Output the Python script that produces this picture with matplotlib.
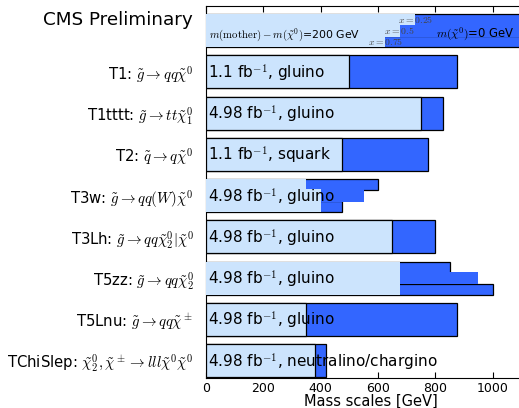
import matplotlib
matplotlib.use("Agg")
import matplotlib.pyplot as plt

plt.rcParams["mathtext.fontset"] = "cm"
plt.rcParams["font.family"] = "DejaVu Sans"

# Simplified models, top to bottom
models = ["T1", "T1tttt", "T2", "T3w", "T3Lh", "T5zz", "T5Lnu", "TChiSlep"]
decays = [
    r"$\tilde{g}\rightarrow qq\tilde{\chi}^0$",
    r"$\tilde{g}\rightarrow tt\tilde{\chi}^0_1$",
    r"$\tilde{q}\rightarrow q\tilde{\chi}^0$",
    r"$\tilde{g}\rightarrow qq(W)\tilde{\chi}^0$",
    r"$\tilde{g}\rightarrow qq\tilde{\chi}^0_2|\tilde{\chi}^0$",
    r"$\tilde{g}\rightarrow qq\tilde{\chi}^0_2$",
    r"$\tilde{g}\rightarrow qq\tilde{\chi}^\pm$",
    r"$\tilde{\chi}^0_2,\tilde{\chi}^\pm\rightarrow lll\tilde{\chi}^0\tilde{\chi}^0$",
]
lumi = ["1.1", "4.98", "1.1", "4.98", "4.98", "4.98", "4.98", "4.98"]
particle = ["gluino", "gluino", "squark", "gluino", "gluino", "gluino",
            "gluino", "neutralino/chargino"]

# Mass reach [GeV]: m(mother) - m(LSP) = 200 GeV (light) and m(LSP) = 0 (dark)
reach_dm200 = [500, 750, 475, None, 650, None, 350, 380]
reach_lsp0 = [875, 825, 775, None, 800, None, 875, 420]

# Models with an intermediate particle: values for x = 0.25, 0.5, 0.75
x_values = ["0.25", "0.5", "0.75"]
t3w_dm200 = [350, 400, 400]
t3w_lsp0 = [600, 550, 475]
t5zz_dm200 = [675, 675, 675]
t5zz_lsp0 = [850, 950, 1000]

# Key row: light part ends at the step, dark part fills the rest
key_dm200 = [730, 675, 625]
key_lsp0 = [1150, 1150, 1150]

light = "#cce4fd"
dark = "#3366ff"

fig = plt.figure(figsize=(5.19, 4.08), dpi=100)
ax = fig.add_axes([206 / 519, 1 - 378 / 408, 329.7 / 519, 372 / 408])

nrows = len(models) + 1
ypos = [nrows - 1 - i for i in range(nrows)]
h = 0.8
sub = h / 3
pad = 0.04  # middle strip overlaps its neighbours to hide inner outlines


def stepped(yc, dm200, lsp0):
    top = yc + h / 2
    ys = [top - sub * (k + 0.5) for k in range(3)]
    # outer strips carry the outline, middle strip drawn plain on top
    for k in (0, 2):
        ax.barh(ys[k], lsp0[k], height=sub, color=dark, edgecolor="black",
                linewidth=0.9, zorder=2)
    ax.barh(ys[1], lsp0[1], height=sub + pad, color=dark, edgecolor="none",
            linewidth=0, zorder=3)
    for k in (0, 2):
        ax.barh(ys[k], dm200[k], height=sub, color=light, edgecolor="none",
                linewidth=0, zorder=4)
    ax.barh(ys[1], dm200[1], height=sub + pad, color=light, edgecolor="none",
            linewidth=0, zorder=4)
    return ys


# Key row
ys = stepped(ypos[0], key_dm200, key_lsp0)
ax.text(12, ypos[0] - 0.09, r"$m(\mathrm{mother})-m(\tilde{\chi}^0)$=200 GeV",
        fontsize=7.8, va="center", ha="left", zorder=6)
ax.text(1078, ypos[0] - 0.09, r"$m(\tilde{\chi}^0)$=0 GeV", fontsize=8.4,
        va="center", ha="right", zorder=6)
for k in range(3):
    ax.text(key_dm200[k], ys[k], r"$x=%s$" % x_values[k], fontsize=7,
            color="#444444", va="center", ha="center", zorder=6)

# Model rows
for i, m in enumerate(models):
    yc = ypos[i + 1]
    if m == "T3w":
        stepped(yc, t3w_dm200, t3w_lsp0)
    elif m == "T5zz":
        stepped(yc, t5zz_dm200, t5zz_lsp0)
    else:
        ax.barh(yc, reach_lsp0[i], height=h, color=dark, edgecolor="black",
                linewidth=0.9, zorder=2)
        ax.barh(yc, reach_dm200[i], height=h, color=light, edgecolor="black",
                linewidth=0.9, zorder=4)
    ax.text(8, yc - 0.04, r"%s fb$^{-1}$, %s" % (lumi[i], particle[i]),
            fontsize=11, va="center", ha="left", zorder=6)

ax.set_xlim(0, 1150)
ax.set_ylim(-0.424, nrows - 1 + 0.594)
ax.set_xticks([0, 200, 400, 600, 800, 1000])
ax.tick_params(axis="x", direction="in", top=True, labelsize=9, length=4,
               pad=3)
ax.set_yticks(ypos[1:])
ax.set_yticklabels(["%s: %s" % (m, d) for m, d in zip(models, decays)])
ax.tick_params(axis="y", length=0, pad=9, labelsize=10.7)
ax.text(-0.04, ypos[0] + 0.25, "CMS Preliminary", fontsize=13.2,
        ha="right", va="center", transform=ax.get_yaxis_transform())
ax.set_xlabel("Mass scales [GeV]", fontsize=10.5, labelpad=-1)

fig.savefig("out.png", dpi=100)
